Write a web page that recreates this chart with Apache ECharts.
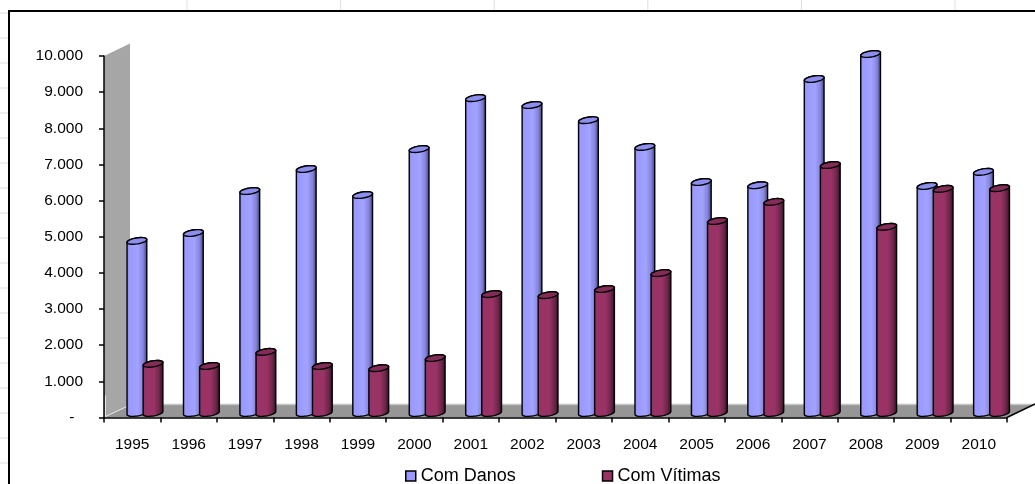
<!DOCTYPE html>
<html><head><meta charset="utf-8">
<style>html,body{margin:0;padding:0;background:#fff}#c{width:1035px;height:484px}</style>
<script src="https://cdn.jsdelivr.net/npm/echarts@6/dist/echarts.min.js"></script>
</head><body><div id="c"></div>
<script>
const categories = ['1995','1996','1997','1998','1999','2000','2001','2002','2003','2004','2005','2006','2007','2008','2009','2010'];
const comDanos = [4760,4980,6140,6750,6030,7300,8710,8520,8100,7360,6390,6300,9240,9930,6280,6670];
const comVitimas = [1360,1300,1690,1300,1240,1520,3290,3260,3430,3870,5310,5840,6860,5150,6200,6220];
const yTicks = {0:'-  ',1000:'1.000',2000:'2.000',3000:'3.000',4000:'4.000',5000:'5.000',6000:'6.000',7000:'7.000',8000:'8.000',9000:'9.000',10000:'10.000'};

const chart = echarts.init(document.getElementById('c'), null, {renderer:'canvas'});
const LG = echarts.graphic.LinearGradient;
const FONT = '"Liberation Sans", Arial, sans-serif';
const blueBody = new LG(0,0,1,0,[{offset:0,color:'#7c7cd0'},{offset:.12,color:'#9999ff'},{offset:.55,color:'#a2a2ff'},{offset:.8,color:'#8484dc'},{offset:1,color:'#383870'}]);
const purpleBody = new LG(0,0,1,0,[{offset:0,color:'#852c58'},{offset:.12,color:'#993366'},{offset:.55,color:'#993366'},{offset:.8,color:'#6e2649'},{offset:1,color:'#2c0f1f'}]);

function ellipsePts(cx,cy,rx,ry,tilt,a0,a1,n){
  const p=[],c=Math.cos(tilt),s=Math.sin(tilt);
  for(let k=0;k<=n;k++){const t=a0+(a1-a0)*k/n,x=rx*Math.cos(t),y=ry*Math.sin(t);p.push([cx+x*c-y*s,cy+x*s+y*c]);}
  return p;
}
function cylinder(dx,body,cap){
  return function(params,api){
    const i=api.value(0),v=api.value(1);
    const top=api.coord([i,v]),base=api.coord([i,0]);
    const cx=top[0]+dx,yt=top[1]-4.5,yb=base[1]-4.5;
    const rx=10,ry=3,tilt=-0.16;
    const pts=ellipsePts(cx,yt,rx,ry,tilt,Math.PI,2*Math.PI,14).slice().concat(ellipsePts(cx,yb,rx,ry,tilt,0,Math.PI,20));
    return {type:'group',children:[
      {type:'polygon',shape:{points:pts},style:{fill:body,stroke:'#000',lineWidth:1.4}},
      {type:'polygon',shape:{points:ellipsePts(cx,yt,rx,ry,tilt,0,2*Math.PI,28)},style:{fill:cap,stroke:'#000',lineWidth:1.4}}
    ]};
  };
}
function room(params,api){
  const o=api.coord([0,0]),t=api.coord([0,10000]),e=api.coord([15,0]),w=api.size([1,0])[0];
  const x0=o[0]-w/2,y0=o[1],yTop=t[1],x1=e[0]+w/2;
  const dx=26,dy=-12.5;
  return {type:'group',children:[
    {type:'polygon',shape:{points:[[x0,y0],[x0,yTop],[x0+dx,yTop+dy],[x0+dx,y0+dy]]},style:{fill:'#a6a6a6'}},
    {type:'polygon',shape:{points:[[x0,y0],[x0+dx,y0+dy],[x1+dx+2,y0+dy],[x1,y0]]},style:{fill:'#969696'}},
    {type:'line',shape:{x1:x0+dx,y1:y0+dy-.5,x2:x1+dx,y2:y0+dy-.5},style:{stroke:'#c4c4c4',lineWidth:1.5}},
    {type:'polyline',shape:{points:[[x0+1.5,y0-22],[x0+1.5,y0-1],[x0+24,y0+dy+1]]},style:{fill:null,stroke:'#e6e6e6',lineWidth:1}},
    {type:'line',shape:{x1:x1,y1:y0,x2:x1+dx+2,y2:y0+dy-1},style:{stroke:'#000',lineWidth:1.5}}
  ]};
}

const sheetLines=[];
for(let y=13;y<484;y+=25) sheetLines.push({type:'line',z:-2,shape:{x1:0,y1:y,x2:8,y2:y},style:{stroke:'#dedede',lineWidth:1}});
for(let k=0;k<6;k++){const x=187+153.6*k; sheetLines.push({type:'line',z:-2,shape:{x1:x,y1:0,x2:x,y2:10},style:{stroke:'#dedede',lineWidth:1}});}

chart.setOption({
  animation:false,
  backgroundColor:'#ffffff',
  graphic:sheetLines.concat([{type:'rect',z:-1,shape:{x:9,y:11,width:1200,height:700},style:{fill:'#fff',stroke:'#000',lineWidth:2}}]),
  grid:{left:104,top:56,width:903,height:361.5,containLabel:false},
  legend:{
    left:400,top:462,itemWidth:10,itemHeight:10,itemGap:86,selectedMode:false,
    textStyle:{fontFamily:FONT,fontSize:18,color:'#000'},
    data:[
      {name:'Com Danos',icon:'rect',itemStyle:{color:'#9999ff',borderColor:'#000',borderWidth:1.5}},
      {name:'Com Vítimas',icon:'rect',itemStyle:{color:'#993366',borderColor:'#000',borderWidth:1.5}}
    ]
  },
  xAxis:{type:'category',data:categories,boundaryGap:true,z:10,
    axisLine:{show:true,lineStyle:{color:'#000',width:1.5}},
    axisTick:{show:true,alignWithLabel:false,length:5,lineStyle:{color:'#000',width:1.5}},
    axisLabel:{fontFamily:FONT,fontSize:15.5,color:'#000',margin:19},splitLine:{show:false}},
  yAxis:{type:'value',min:0,max:10000,interval:1000,z:10,
    axisLine:{show:true,lineStyle:{color:'#000',width:1.5}},
    axisTick:{show:true,length:5,lineStyle:{color:'#000',width:1.5}},
    axisLabel:{fontFamily:FONT,fontSize:15.5,color:'#000',margin:21,formatter:v=>yTicks[v]},splitLine:{show:false}},
  series:[
    {type:'custom',name:'room',silent:true,z:1,coordinateSystem:'cartesian2d',renderItem:room,data:[[0,0]],clip:false},
    {type:'custom',name:'Com Danos',z:2,renderItem:cylinder(4.7,blueBody,'#8e8ef0'),encode:{x:0,y:1},data:comDanos.map((v,i)=>[i,v]),clip:false,itemStyle:{color:'#9999ff'}},
    {type:'custom',name:'Com Vítimas',z:3,renderItem:cylinder(20.8,purpleBody,'#842c58'),encode:{x:0,y:1},data:comVitimas.map((v,i)=>[i,v]),clip:false,itemStyle:{color:'#993366'}}
  ]
});
</script></body></html>
